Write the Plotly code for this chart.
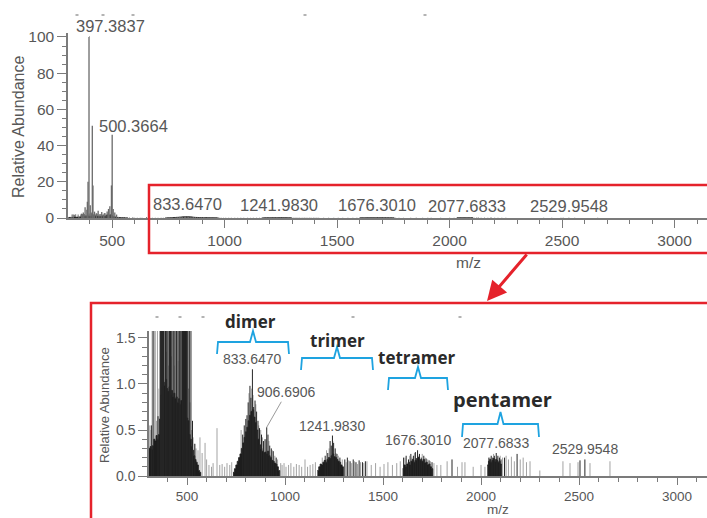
import plotly.graph_objects as go

# ---------------------------------------------------------------- data
# dense (unresolved) signal envelopes, m/z vs relative abundance
low_env_mz = [306, 312, 318, 324, 330, 336, 342, 348, 354, 360, 366, 372, 378, 384, 390,
              396, 402, 408, 414, 420, 426, 432, 438, 444, 450, 456, 462, 468, 474, 480,
              486, 492, 498, 504, 510, 516, 522, 528, 534, 540, 546, 552, 558, 564, 570]
low_env_int = [0.30, 0.32, 0.29, 0.33, 0.40, 0.38, 0.44, 0.40, 0.45, 0.62, 0.88, 0.96, 1.02, 0.98, 1.05,
               0.95, 0.92, 0.97, 0.88, 0.93, 0.86, 0.90, 0.84, 0.86, 0.80, 0.84, 0.78, 0.82, 1.62, 1.62,
               1.62, 1.62, 0.63, 0.60, 0.45, 0.40, 0.32, 0.28, 0.22, 0.18, 0.15, 0.12, 0.06, 0.04, 0.0]
dimer_env_mz = [735, 742, 749, 756, 763, 770, 777, 784, 791, 798, 805, 812, 819, 826, 833, 840, 847, 854,
                861, 868, 875, 882, 889, 896, 903, 910, 917, 924, 931, 938, 945, 952, 959, 966, 973]
dimer_env_int = [0.04, 0.08, 0.12, 0.16, 0.20, 0.24, 0.30, 0.36, 0.42, 0.48, 0.53, 0.60, 0.66, 0.70, 0.72,
                 0.64, 0.58, 0.50, 0.40, 0.34, 0.30, 0.27, 0.25, 0.26, 0.24, 0.27, 0.22, 0.20, 0.17, 0.16,
                 0.14, 0.13, 0.10, 0.06, 0.0]
trimer_env_mz = [1165, 1172, 1179, 1186, 1193, 1200, 1207, 1214, 1221, 1228, 1235, 1242, 1249, 1256,
                 1263, 1270, 1277, 1284, 1291, 1298]
trimer_env_int = [0.06, 0.10, 0.13, 0.12, 0.15, 0.17, 0.15, 0.18, 0.20, 0.19, 0.22, 0.24, 0.21, 0.20,
                  0.18, 0.16, 0.15, 0.12, 0.10, 0.0]
tetramer_env_mz = [1600, 1607, 1614, 1621, 1628, 1635, 1642, 1649, 1656, 1663, 1670, 1677, 1684, 1691,
                   1698, 1705, 1712, 1719, 1726, 1733, 1740, 1747, 1754]
tetramer_env_int = [0.08, 0.12, 0.10, 0.13, 0.15, 0.12, 0.16, 0.18, 0.15, 0.17, 0.19, 0.20, 0.17, 0.18,
                    0.16, 0.18, 0.14, 0.15, 0.12, 0.13, 0.10, 0.08, 0.0]
pentamer_env_mz = [2032, 2038, 2044, 2050, 2056, 2062, 2068, 2074, 2080, 2086, 2092, 2098, 2104]
pentamer_env_int = [0.12, 0.16, 0.18, 0.15, 0.17, 0.19, 0.16, 0.18, 0.17, 0.15, 0.16, 0.13, 0.0]

# resolved dark peaks
dark_low_mz = [318, 327, 352, 364, 366, 370, 372, 375, 380, 388, 390, 393, 403, 410, 412, 415, 416,
               422, 430, 438, 446, 454, 461, 468, 478, 484, 490, 497, 505, 512, 520, 528, 540]
dark_low_int = [0.55, 1.9, 0.65, 2.4, 1.9, 2.2, 3.0, 2.1, 6, 4.5, 9, 20, 7, 2.3, 51, 18, 2.0,
                3.5, 2.6, 4, 2.2, 3.3, 2.0, 2.8, 3.6, 5, 6.5, 18, 5, 3, 1.9, 0.6, 0.35]
dark_high_mz = [784, 792, 800, 806, 812, 821, 826, 840, 847, 855, 862, 870, 880, 890, 898, 913, 922, 930,
                940, 955,
                1205, 1218, 1230, 1236, 1248, 1256, 1265, 1280, 1305, 1318, 1332, 1348, 1362, 1378, 1395, 1410,
                1605, 1618, 1630, 1642, 1655, 1665, 1686, 1695, 1708, 1720, 1735, 1750,
                2040, 2052, 2060, 2068, 2086, 2094, 2102, 2120, 2184, 1852, 2505]
dark_high_int = [0.45, 0.55, 0.62, 0.66, 0.80, 0.98, 0.85, 0.75, 0.82, 0.70, 0.60, 0.52, 0.45, 0.38, 0.40,
                 0.45, 0.33, 0.30, 0.27, 0.20,
                 0.22, 0.25, 0.38, 0.33, 0.36, 0.30, 0.24, 0.20, 0.18, 0.20, 0.16, 0.18, 0.15, 0.17, 0.15, 0.16,
                 0.20, 0.22, 0.18, 0.24, 0.22, 0.26, 0.24, 0.20, 0.22, 0.19, 0.17, 0.15,
                 0.20, 0.22, 0.20, 0.22, 0.22, 0.20, 0.18, 0.20, 0.24, 0.18, 0.17]

# light grey peaks
grey_low_mz = [310, 316, 322, 333, 338, 345, 349, 357, 361, 368,
               376, 384, 395, 398, 406, 408, 418, 421, 426, 434,
               437, 442, 450, 455, 458, 465, 472, 481, 487, 494,
               502, 508, 515, 524, 531, 537, 546, 556, 566, 577,
               592, 600]
grey_low_int = [0.55, 0.50, 1.9, 1.8, 2.1, 0.60, 1.9, 0.95, 2.0, 1.8,
                2.2, 1.7, 1.35, 2.5, 1.2, 3.1, 2.0, 1.3, 1.9, 2.4,
                1.2, 1.7, 2.1, 1.25, 1.8, 2.6, 1.9, 2.3, 1.8, 2.2,
                1.7, 0.95, 0.80, 0.50, 0.42, 0.35, 0.30, 0.28, 0.42, 0.25,
                0.36, 0.18]
grey_high_mz = [612, 625, 633, 653, 667, 679, 692, 704, 718, 728,
                776, 816, 830, 837, 851, 866, 876, 885, 903, 918, 935, 948, 962, 978,
                985, 995, 1005, 1018, 1030, 1045, 1058, 1072, 1085, 1102, 1115, 1128, 1142, 1155,
                1190, 1212, 1225, 1244, 1260, 1272, 1292, 1312, 1325, 1340, 1355, 1370, 1385, 1402, 1418,
                1440, 1462, 1485, 1505, 1525, 1548, 1570, 1588,
                1612, 1636, 1648, 1660, 1680, 1700, 1715, 1728, 1742, 1760, 1775, 1795,
                1827, 1880, 1903, 1918, 1960, 2000, 2020,
                2046, 2064, 2082, 2098, 2110, 2128, 2140, 2155, 2170, 2200, 2215, 2232, 2250, 2300,
                2418, 2454, 2495, 2556, 2658]
grey_high_int = [0.12, 0.10, 0.14, 0.52, 0.12, 0.13, 0.10, 0.14, 0.12, 0.15,
                 0.50, 0.90, 0.95, 0.88, 0.78, 0.55, 0.50, 0.42, 0.40, 0.38, 0.28, 0.22, 0.18, 0.14,
                 0.12, 0.14, 0.10, 0.12, 0.14, 0.10, 0.13, 0.12, 0.10, 0.18, 0.10, 0.12, 0.13, 0.15,
                 0.20, 0.28, 0.30, 0.38, 0.25, 0.22, 0.18, 0.15, 0.17, 0.14, 0.16, 0.13, 0.15, 0.14, 0.16,
                 0.12, 0.14, 0.10, 0.13, 0.15, 0.12, 0.14, 0.16,
                 0.20, 0.22, 0.20, 0.25, 0.22, 0.24, 0.20, 0.18, 0.16, 0.14, 0.12, 0.12,
                 0.16, 0.10, 0.15, 0.15, 0.10, 0.12, 0.10,
                 0.20, 0.24, 0.20, 0.22, 0.20, 0.22, 0.18, 0.21, 0.16, 0.18, 0.20, 0.15, 0.16, 0.06,
                 0.16, 0.14, 0.15, 0.14, 0.16]

# labelled peaks
label_mz = [397.3837, 500.3664, 833.6470, 906.6906, 1241.9830, 1676.3010, 2077.6833, 2529.9548]
label_int = [100, 46, 1.16, 0.53, 0.44, 0.28, 0.25, 0.18]
top_label_idx = [0, 1, 2, 4, 5, 6, 7]
bottom_label_idx = [2, 3, 4, 5, 6, 7]

oligomers = ["dimer", "trimer", "tetramer", "pentamer"]

# ---------------------------------------------------------------- helpers
W, H = 707, 518
def PX(x):
    return x / W
def PY(y):
    return 1 - y / H

def stick_xy(mz, it):
    xs, ys = [], []
    for m, v in zip(mz, it):
        xs += [m, m, None]
        ys += [0, v, None]
    return xs, ys

FONT = "Liberation Sans, Arial, sans-serif"
AX = "#7b7b7b"
TXT = "#575757"

fig = go.Figure()
envs = [(low_env_mz, low_env_int), (dimer_env_mz, dimer_env_int), (trimer_env_mz, trimer_env_int),
        (tetramer_env_mz, tetramer_env_int), (pentamer_env_mz, pentamer_env_int)]
grey_mz = grey_low_mz + grey_high_mz
grey_int = grey_low_int + grey_high_int
dark_mz = dark_low_mz + dark_high_mz + label_mz
dark_int = dark_low_int + dark_high_int + label_int

for xa, ya, top in [("x", "y", True), ("x2", "y2", False)]:
    gx, gy = stick_xy(grey_mz, grey_int)
    fig.add_trace(go.Scatter(x=gx, y=gy, xaxis=xa, yaxis=ya, mode="lines",
                             line=dict(color="#7a7a7a" if top else "#a3a3a3", width=1.1 if top else 1),
                             hoverinfo="skip", showlegend=False))
    for emz, eint in envs:
        fig.add_trace(go.Scatter(x=emz, y=eint, xaxis=xa, yaxis=ya, mode="lines",
                                 line=dict(shape="hv", width=0.8, color="#1d1d1d"),
                                 fill="tozeroy", fillcolor="#1d1d1d",
                                 hoverinfo="skip", showlegend=False))
    dx, dy = stick_xy(dark_mz, dark_int)
    fig.add_trace(go.Scatter(x=dx, y=dy, xaxis=xa, yaxis=ya, mode="lines",
                             line=dict(color="#6a6a6a" if top else "#262626", width=1.3 if top else 1),
                             hoverinfo="skip", showlegend=False))

common = dict(showline=True, linecolor=AX, linewidth=1.5, ticks="outside", tickcolor=AX,
              tickwidth=1.2, showgrid=False, zeroline=False, fixedrange=True, automargin=False)

fig.update_layout(
    template="none",
    width=W, height=H, margin=dict(l=0, r=0, t=0, b=0, pad=0, autoexpand=False),
    paper_bgcolor="white", plot_bgcolor="white", showlegend=False,
    xaxis=dict(**common, domain=[PX(68), 1], range=[304, 3144], anchor="y",
               tick0=0, dtick=500, ticklen=8,
               tickfont=dict(family=FONT, size=15.5, color=TXT),
               minor=dict(dtick=100, ticklen=4, ticks="outside", tickcolor=AX)),
    yaxis=dict(**common, domain=[PY(218), PY(33)], range=[0, 102.2], anchor="x",
               tick0=0, dtick=20, ticklen=9,
               tickfont=dict(family=FONT, size=15.5, color=TXT),
               minor=dict(dtick=5, ticklen=4, ticks="outside", tickcolor=AX)),
    xaxis2=dict(**common, domain=[PX(149), 1], range=[306, 3153], anchor="y2",
                tick0=0, dtick=500, ticklen=7,
                tickfont=dict(family=FONT, size=13.5, color=TXT),
                minor=dict(dtick=100, ticklen=4, ticks="outside", tickcolor=AX)),
    yaxis2=dict(**common, domain=[PY(476), PY(331)], range=[0, 1.576], anchor="x2",
                tick0=0, dtick=0.5, tickformat=".1f", ticklen=9,
                tickfont=dict(family=FONT, size=14, color=TXT),
                minor=dict(dtick=0.1, ticklen=5, ticks="outside", tickcolor=AX)),
)

ann = []
def paper_text(x, y, text, size, angle=0, color=TXT, family=FONT):
    return dict(x=PX(x), y=PY(y), xref="paper", yref="paper", text=text, textangle=angle,
                xanchor="center", yanchor="middle", showarrow=False,
                font=dict(family=family, size=size, color=color))

# axis titles
ann.append(paper_text(18, 127, "Relative Abundance", 16, -90))
ann.append(paper_text(104, 405, "Relative Abundance", 13, -90))
ann.append(paper_text(468, 262, "m/z", 15.5))
ann.append(paper_text(498, 509, "m/z", 13.5))

# peak labels, top panel
top_leaders = {0: (21, -11), 1: (21, -9)}
for i in top_label_idx:
    d = dict(x=label_mz[i], y=label_int[i], xref="x", yref="y", text=f"{label_mz[i]:.4f}",
             font=dict(family=FONT, size=16.5, color=TXT))
    if i in top_leaders:
        d.update(showarrow=True, arrowhead=0, arrowwidth=1, arrowcolor="#9a9a9a",
                 ax=top_leaders[i][0], ay=top_leaders[i][1], standoff=0)
    else:
        d.update(showarrow=False, xanchor="center", yanchor="bottom", yshift=1)
    ann.append(d)

# peak labels, bottom panel
bottom_leaders = {3: (20, -35)}
for i in bottom_label_idx:
    d = dict(x=label_mz[i], y=label_int[i], xref="x2", yref="y2", text=f"{label_mz[i]:.4f}",
             font=dict(family=FONT, size=14, color=TXT))
    if i in bottom_leaders:
        d.update(showarrow=True, arrowhead=0, arrowwidth=1, arrowcolor="#9a9a9a",
                 ax=bottom_leaders[i][0], ay=bottom_leaders[i][1], standoff=0)
    else:
        d.update(showarrow=False, xanchor="center", yanchor="bottom", yshift=0)
    ann.append(d)

# oligomer words and brackets (pixel geometry)
word_pos = [(250, 321, 17), (337, 340, 17), (417, 357, 17), (502, 399, 20)]
bracket_geo = [(217, 289, 342, 354, 331), (301, 373, 358, 370, 347),
               (388, 448, 378, 390, 367), (462, 539, 424, 437, 412)]
shapes = []
for name, (wx, wy, fs), (x0, x1, yh, yb, yp) in zip(oligomers, word_pos, bracket_geo):
    ann.append(paper_text(wx, wy, f"<b>{name}</b>", fs, color="#2a2a2a",
                          family="Open Sans, DejaVu Sans, sans-serif"))
    xc = (x0 + x1) / 2
    pts = [(x0, yb), (x0 + 1, yh), (xc - 3, yh), (xc, yp), (xc + 3, yh), (x1 - 1, yh), (x1, yb)]
    path = "M " + " L ".join(f"{PX(a):.5f},{PY(b):.5f}" for a, b in pts)
    shapes.append(dict(type="path", path=path, xref="paper", yref="paper",
                       line=dict(color="#1ea3e0", width=1.8)))

# faint scan artefact dashes along the top edges of both panels
for ax_, ay_ in [(77, 15), (103, 15), (133, 15), (305, 15), (425, 15),
                 (157, 317), (180, 317), (203, 317), (353, 317), (460, 317)]:
    shapes.append(dict(type="line", xref="paper", yref="paper", x0=PX(ax_ - 1.5), x1=PX(ax_ + 1.5),
                       y0=PY(ay_), y1=PY(ay_), line=dict(color="#9a9a9a", width=1.5)))

RED = "#e5222b"
shapes.append(dict(type="rect", xref="paper", yref="paper", x0=PX(149), x1=1.02,
                   y0=PY(253), y1=PY(185), line=dict(color=RED, width=2.5)))
shapes.append(dict(type="rect", xref="paper", yref="paper", x0=PX(91), x1=1.02,
                   y0=-0.05, y1=PY(303), line=dict(color=RED, width=2.5)))

ann.append(dict(x=PX(487), y=PY(301), xref="paper", yref="paper", text="", showarrow=True,
                arrowhead=2, arrowsize=1.3, arrowwidth=3, arrowcolor=RED, ax=41, ay=-48,
                standoff=0))

fig.update_layout(annotations=ann, shapes=shapes)
fig.write_html("out.html")
